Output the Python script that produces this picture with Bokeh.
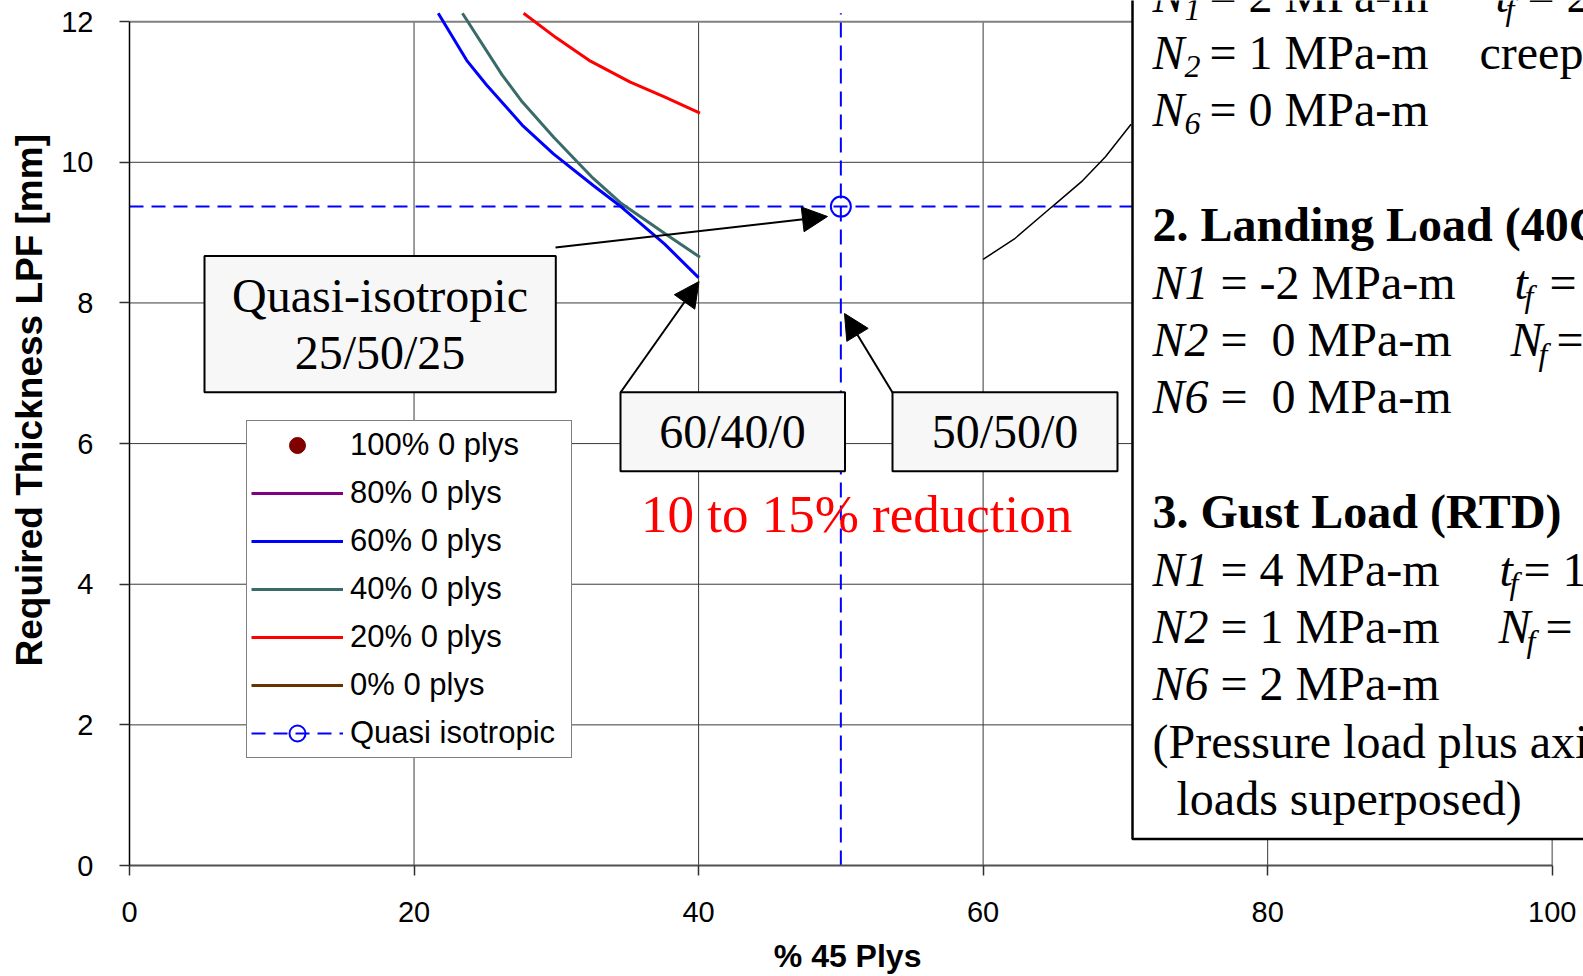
import math
from bokeh.plotting import figure
from bokeh.models import (Range1d, FixedTicker, Legend, LegendItem, Label,
                          BoxAnnotation, Arrow, NormalHead, Title)
from bokeh.embed import file_html
from bokeh.resources import INLINE

NAN = float("nan")

# ---------------- data ----------------
x_ticks = [0, 20, 40, 60, 80, 100]
y_ticks = [0, 2, 4, 6, 8, 10, 12]
plot_top = 12.12   # top edge of the original plot area (curves are clipped there)

# 100 % / 80 % / 0 % 0 plys: no point of these series is visible in the chart
p100_x, p100_y = [NAN], [NAN]
p80_x, p80_y = [NAN], [NAN]
p0_x, p0_y = [NAN], [NAN]

p60_x = [21.7, 23.7, 25.1, 27.6, 29.8, 32.6, 34.6, 37.6, 40.0]
p60_y = [12.12, 11.45, 11.10, 10.53, 10.12, 9.67, 9.36, 8.84, 8.36]

p40_x = [23.4, 26.2, 27.6, 29.8, 31.6, 32.6, 34.6, 37.6, 40.1]
p40_y = [12.12, 11.24, 10.86, 10.36, 9.98, 9.77, 9.41, 8.99, 8.65]

p20_x = [27.7, 30.0, 32.3, 35.2, 37.6, 40.1]
p20_y = [12.12, 11.77, 11.45, 11.14, 10.93, 10.70]

other_x = [60.0, 62.2, 64.8, 67.0, 68.6, 70.4]
other_y = [8.62, 8.91, 9.36, 9.74, 10.08, 10.54]

qi_x = [50.0]
qi_y = [9.37]

series_names = ["100% 0 plys", "80% 0 plys", "60% 0 plys", "40% 0 plys",
                "20% 0 plys", "0% 0 plys", "Quasi isotropic"]

# ---------------- geometry ----------------
W, H = 1583, 976
LEFT, BOTTOM = 129, 111
XS = 14.227   # px per x unit
YS = 70.32    # px per y unit
x_end = (W - LEFT) / XS
y_end = (H - BOTTOM) / YS
NB = "\u00a0"   # non-breaking space


def dx(px):   # pixel -> data x
    return (px - LEFT) / XS


def dy(py):   # pixel -> data y
    return (H - BOTTOM - py) / YS


p = figure(width=W, height=H, output_backend="svg", toolbar_location=None,
           x_range=Range1d(0, x_end), y_range=Range1d(0, y_end),
           min_border_left=LEFT, min_border_right=0, min_border_top=0,
           min_border_bottom=BOTTOM, outline_line_color=None,
           background_fill_color="white", border_fill_color="white")

p.grid.visible = False

# grid lines
p.segment(x0=x_ticks[1:-1], y0=[y_ticks[0]] * 4, x1=x_ticks[1:-1], y1=[y_ticks[-1]] * 4,
          line_color="#3a3a3a", line_width=1)
p.segment(x0=[x_ticks[-1]], y0=[y_ticks[0]], x1=[x_ticks[-1]], y1=[y_ticks[-1]],
          line_color="#808080", line_width=1.5)
p.segment(x0=[x_ticks[0]] * 5, y0=y_ticks[1:-1], x1=[x_ticks[-1]] * 5, y1=y_ticks[1:-1],
          line_color="#3a3a3a", line_width=1)
p.segment(x0=[x_ticks[0]], y0=[y_ticks[-1]], x1=[x_ticks[-1]], y1=[y_ticks[-1]],
          line_color="#808080", line_width=2)

# axes
for ax, tk in ((p.xaxis, x_ticks), (p.yaxis, y_ticks)):
    ax.ticker = FixedTicker(ticks=tk)
    ax.minor_tick_line_color = None
    ax.major_tick_in = 0
    ax.major_tick_out = 10
    ax.major_tick_line_color = "#303030"
    ax.major_tick_line_width = 1.5
    ax.major_label_text_font = "Liberation Sans"
    ax.major_label_text_font_size = "29px"
    ax.major_label_text_color = "black"
p.xaxis.bounds = (x_ticks[0], x_ticks[-1])
p.yaxis.bounds = (y_ticks[0], y_ticks[-1])
p.xaxis.axis_line_color = "#505050"
p.xaxis.axis_line_width = 2
p.yaxis.axis_line_color = "black"
p.yaxis.axis_line_width = 1.5
p.xaxis.major_label_standoff = 26
p.yaxis.major_label_standoff = 26

# axis titles
p.add_layout(Title(text="Required Thickness LPF [mm]", align="left", offset=199,
                   vertical_align="top", standoff=14,
                   text_font="Liberation Sans", text_font_size="37px",
                   text_font_style="bold", text_color="black"), "left")
p.xaxis.axis_label = "% 45 Plys" + NB + NB
p.xaxis.axis_label_text_font = "Liberation Sans"
p.xaxis.axis_label_text_font_size = "32px"
p.xaxis.axis_label_text_font_style = "bold"
p.xaxis.axis_label_text_color = "black"
p.xaxis.axis_label_standoff = 13

# quasi-isotropic cross hairs
qi_h = p.line([x_ticks[0], x_ticks[-1]], [qi_y[0], qi_y[0]], line_color="blue",
              line_width=2, line_dash="14 8")
p.line([qi_x[0], qi_x[0]], [y_ticks[0], plot_top], line_color="blue",
       line_width=2, line_dash="15 8")

# series
r100 = p.scatter(p100_x, p100_y, marker="circle", size=13, color="#800000")
r80 = p.line(p80_x, p80_y, line_color="#800080", line_width=3)
r0 = p.line(p0_x, p0_y, line_color="#663300", line_width=3)
r20 = p.line(p20_x, p20_y, line_color="#ff0000", line_width=3)
r40 = p.line(p40_x, p40_y, line_color="#3a6b6b", line_width=3)
r60 = p.line(p60_x, p60_y, line_color="#0000ff", line_width=3)
p.line(other_x, other_y, line_color="black", line_width=1.5)
qi_s = p.scatter(qi_x, qi_y, marker="circle", size=20, fill_color=None,
                 line_color="blue", line_width=2)

SERIF = "Liberation Serif"


def lab(text, px, pc, size, style="normal", color="black", align="left", font=SERIF):
    # pc: vertical centre of the capitals, in pixels
    p.add_layout(Label(x=dx(px), y=dy(pc - 2), text=text, text_font=font,
                       text_font_size=f"{size}px", text_font_style=style,
                       text_color=color, text_align=align,
                       text_baseline="alphabetic"))


def box(l, t, r, b, fill="#f7f7f7", lw=2):
    p.add_layout(BoxAnnotation(left=dx(l), right=dx(r), top=dy(t), bottom=dy(b),
                               fill_color=fill, fill_alpha=1, line_color="black",
                               line_alpha=1, line_width=lw))


# big text box (load cases)
box(1132, -100, 1700, 838.5, fill="white", lw=2.5)
box_lines = [
    (0, [("N", 1152, "i"), ("1", 1184, "s"), ("= 2 MPa-m", 1209, "n"),
         ("t", 1495, "i"), ("f", 1505, "s"), ("= 2", 1527, "n")]),
    (1, [("N", 1152, "i"), ("2", 1184, "s"), ("= 1 MPa-m", 1209, "n"),
         ("creep", 1479, "n")]),
    (2, [("N", 1152, "i"), ("6", 1184, "s"), ("= 0 MPa-m", 1209, "n")]),
    (4, [("2. Landing Load (40C", 1152, "b")]),
    (5, [("N1", 1152, "i"), ("= -2 MPa-m", 1220, "n"),
         ("t", 1514, "i"), ("f", 1524, "s"), ("=", 1549, "n")]),
    (6, [("N2", 1152, "i"), ("=" + NB + " 0 MPa-m", 1220, "n"),
         ("N", 1510, "i"), ("f", 1538, "s"), ("=", 1556, "n")]),
    (7, [("N6", 1152, "i"), ("=" + NB + " 0 MPa-m", 1220, "n")]),
    (9, [("3. Gust Load (RTD)", 1152, "b")]),
    (10, [("N1", 1152, "i"), ("= 4 MPa-m", 1220, "n"),
          ("t", 1499, "i"), ("f", 1509, "s"), ("= 1", 1523, "n")]),
    (11, [("N2", 1152, "i"), ("= 1 MPa-m", 1220, "n"),
          ("N", 1498, "i"), ("f", 1526, "s"), ("=", 1545, "n")]),
    (12, [("N6", 1152, "i"), ("= 2 MPa-m", 1220, "n")]),
    (13, [("(Pressure load plus axial", 1152, "n")]),
    (14, [("loads superposed)", 1176, "n")]),
]
for k, segs in box_lines:
    c = 54 + 57.4 * (k - 1)
    for text, px, st in segs:
        if st == "s":
            lab(text, px, c + 14, 32, "italic")
        elif st == "i":
            lab(text, px, c, 48, "italic")
        elif st == "b":
            lab(text, px, c, 48, "bold")
        else:
            lab(text, px, c, 48, "normal")

# callout boxes
box(204, 255.5, 555.3, 391.7)
lab("Quasi-isotropic", 379.5, 297, 48, align="center")
lab("25/50/25", 379.5, 353.5, 48, align="center")
box(620, 391.7, 844.5, 470.7)
lab("60/40/0", 732, 433, 48, align="center")
box(892, 391.7, 1117, 470.7)
lab("50/50/0", 1004.5, 433, 48, align="center")
lab("10 to 15% reduction", 640.5, 515.5, 53, color="#ff0000")

# arrows
for (x0, y0, x1, y1) in [(555, 247, 827, 216), (620, 392, 698.5, 281), (892, 392, 844, 313)]:
    p.add_layout(Arrow(end=NormalHead(size=25, fill_color="black", line_color="black"),
                       x_start=dx(x0), y_start=dy(y0), x_end=dx(x1), y_end=dy(y1),
                       line_color="black", line_width=2))

# legend
legend = Legend(items=[
    LegendItem(label=series_names[0], renderers=[r100]),
    LegendItem(label=series_names[1], renderers=[r80]),
    LegendItem(label=series_names[2], renderers=[r60]),
    LegendItem(label=series_names[3], renderers=[r40]),
    LegendItem(label=series_names[4], renderers=[r20]),
    LegendItem(label=series_names[5], renderers=[r0]),
    LegendItem(label=series_names[6], renderers=[qi_h, qi_s]),
], location=(117, 107), glyph_width=92, glyph_height=40, label_height=40,
    label_width=217, spacing=8, padding=4, margin=0, label_standoff=7,
    label_text_font="Liberation Sans", label_text_font_size="31px",
    label_text_color="black", border_line_color="#808080", border_line_width=1.5,
    border_line_alpha=1, background_fill_color="white", background_fill_alpha=1)
p.add_layout(legend, "center")

open("out.html", "w").write(file_html(p, INLINE))
